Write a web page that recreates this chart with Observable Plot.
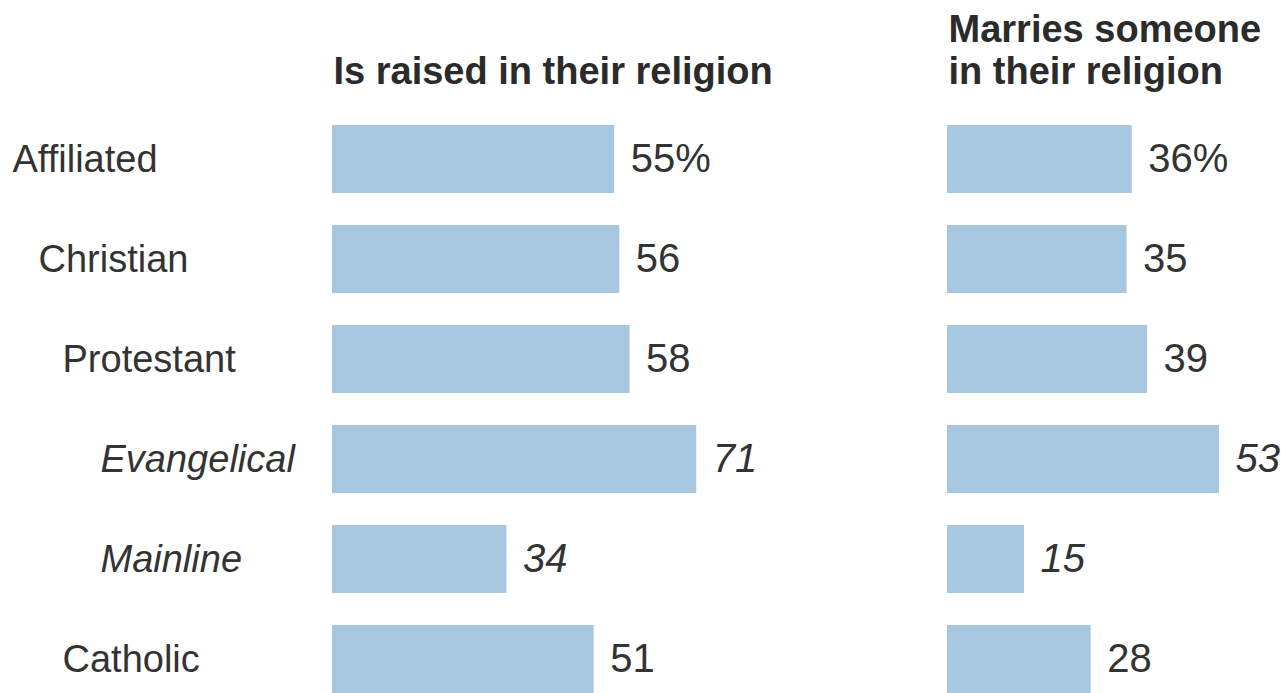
<!DOCTYPE html>
<html>
<head>
<meta charset="utf-8">
<script src="https://cdn.jsdelivr.net/npm/d3@7"></script>
<script src="https://cdn.jsdelivr.net/npm/@observablehq/plot@0.6"></script>
<style>
  html, body { margin: 0; padding: 0; background: #fff; }
  #chart svg { display: block; }
</style>
</head>
<body>
<div id="chart"></div>
<script>
// ---- data ----
const categories = ["Affiliated", "Christian", "Protestant", "Evangelical", "Mainline", "Catholic"];
const levels = [0, 1, 2, 3, 3, 2]; // hierarchy depth of each category
const raised = [55, 56, 58, 71, 34, 51];
const marries = [36, 35, 39, 53, 15, 28];
const panels = ["Is raised in their religion", "Marries someone\nin their religion"];

// ---- table built from the arrays ----
const table = [];
categories.forEach((c, i) => {
  table.push({cat: c, level: levels[i], panel: panels[0], value: raised[i], first: i === 0});
  table.push({cat: c, level: levels[i], panel: panels[1], value: marries[i], first: i === 0});
});
const rows = categories.map((c, i) => ({cat: c, level: levels[i]}));

const font = "'Liberation Sans', Arial, sans-serif";
const indent = [12, 38, 62, 100];
const left = 332;
const fmt = d => d.first ? `${d.value}%` : `${d.value}`;

const labelMarks = [0, 1, 2, 3].map(lv =>
  Plot.text(rows, {
    filter: d => d.level === lv,
    fx: () => panels[0],
    y: "cat",
    text: "cat",
    frameAnchor: "left",
    textAnchor: "start",
    dx: indent[lv] - left,
    fontSize: 38,
    fontStyle: lv === 3 ? "italic" : "normal",
    fill: "#333"
  })
);

const chart = Plot.plot({
  width: 1281,
  height: 693,
  marginLeft: left,
  marginRight: 0,
  marginTop: 125,
  marginBottom: 0,
  style: {fontFamily: font, background: "#fff", overflow: "visible"},
  fx: {domain: panels, paddingInner: 0.457, paddingOuter: 0, round: false, axis: null},
  x: {domain: [0, 65.1], axis: null},
  y: {domain: categories, paddingInner: 0.32, paddingOuter: 0, round: false, axis: null},
  marks: [
    Plot.barX(table, {fx: "panel", y: "cat", x: "value", fill: "#a7c6df"}),
    Plot.text(table, {
      filter: d => d.level !== 3,
      fx: "panel", y: "cat", x: "value", text: fmt,
      textAnchor: "start", dx: 16, fontSize: 40, fill: "#333"
    }),
    Plot.text(table, {
      filter: d => d.level === 3,
      fx: "panel", y: "cat", x: "value", text: fmt,
      textAnchor: "start", dx: 16, fontSize: 40, fontStyle: "italic", fill: "#333"
    }),
    Plot.text(panels, {
      fx: d => d, text: d => d,
      frameAnchor: "top-left", textAnchor: "start", lineAnchor: "bottom",
      lineHeight: 1.1, dy: -42, dx: 1,
      fontSize: 38, fontWeight: "bold", fill: "#2b2b2b"
    }),
    ...labelMarks
  ]
});
document.getElementById("chart").appendChild(chart);
</script>
</body>
</html>
